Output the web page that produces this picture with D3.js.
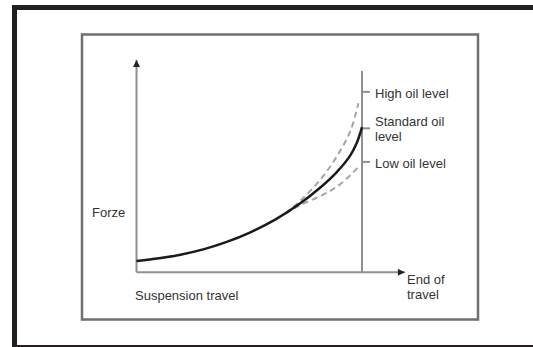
<!DOCTYPE html>
<html>
<head>
<meta charset="utf-8">
<script src="https://cdn.jsdelivr.net/npm/d3@7/dist/d3.min.js"></script>
<style>
  html, body { margin: 0; padding: 0; background: #fff; }
  svg { display: block; }
  text { font-family: "Liberation Sans", Arial, sans-serif; font-size: 13px; fill: #333; }
</style>
</head>
<body>
<svg id="chart" width="533" height="347"></svg>
<script>
// Suspension travel (0 = start, 100 = end of travel) vs. force, relative units
const standardTravel = [0, 10, 20, 30, 40, 50, 61.5, 72.5, 81.4, 88.8, 94.9, 97.7, 100];
const standardForce  = [5.3, 6.6, 8.4, 10.9, 14.3, 18.6, 24.8, 32.4, 39.8, 47.2, 55.2, 61.0, 68.4];

const highTravel = [66, 72.5, 81.4, 88.8, 94.9, 98.4];
const highForce  = [27.8, 33.6, 43.5, 54.5, 66.7, 79.6];

const lowTravel = [66, 72.5, 81.4, 88.8, 94.9, 98.4];
const lowForce  = [27.6, 31.6, 35.8, 40.3, 45.8, 49.7];

// Oil level markers on the end-of-travel line
const levelLabels = [["High oil level"], ["Standard oil", "level"], ["Low oil level"]];
const levelForce  = [85, 67.8, 52];

const endLineTop = 94.8;
const yAxisLabel = "Forze";
const xAxisLabel = "Suspension travel";
const endLabel = ["End of", "travel"];

const svg = d3.select("#chart");

// Outer frame
svg.append("path")
  .attr("d", "M14.5,347 L14.5,7.5 L540,7.5")
  .attr("fill", "none").attr("stroke", "#231f20").attr("stroke-width", 5);
svg.append("line")
  .attr("x1", 14).attr("x2", 533).attr("y1", 346).attr("y2", 346)
  .attr("stroke", "#231f20").attr("stroke-width", 2);

// Inner panel
svg.append("rect")
  .attr("x", 82).attr("y", 34.5).attr("width", 396).attr("height", 285)
  .attr("fill", "#fff").attr("stroke", "#707070").attr("stroke-width", 2.5);

const x = d3.scaleLinear().domain([0, 100]).range([136.5, 362]);
const y = d3.scaleLinear().domain([0, 100]).range([272.3, 60]);

const defs = svg.append("defs");
defs.append("marker")
  .attr("id", "arrow").attr("viewBox", "0 0 10 10")
  .attr("refX", 10).attr("refY", 5)
  .attr("markerWidth", 9).attr("markerHeight", 7)
  .attr("markerUnits", "userSpaceOnUse")
  .attr("orient", "auto")
  .append("path").attr("d", "M0,0 L10,5 L0,10 Z").attr("fill", "#222");

const axisColor = "#8f8f8f";

// Force axis
svg.append("line")
  .attr("x1", x(0)).attr("x2", x(0))
  .attr("y1", y(0)).attr("y2", y(100))
  .attr("stroke", axisColor).attr("stroke-width", 2)
  .attr("marker-end", "url(#arrow)");

// Travel axis
svg.append("line")
  .attr("x1", x(0)).attr("x2", x(119))
  .attr("y1", y(0)).attr("y2", y(0))
  .attr("stroke", axisColor).attr("stroke-width", 2)
  .attr("marker-end", "url(#arrow)");

// End-of-travel line
svg.append("line")
  .attr("x1", x(100)).attr("x2", x(100))
  .attr("y1", y(0)).attr("y2", y(endLineTop))
  .attr("stroke", axisColor).attr("stroke-width", 2);

// Level ticks and labels
levelForce.forEach((f, i) => {
  svg.append("line")
    .attr("x1", x(100)).attr("x2", x(100) + 8)
    .attr("y1", y(f)).attr("y2", y(f))
    .attr("stroke", axisColor).attr("stroke-width", 2);
  const lines = levelLabels[i];
  const t = svg.append("text")
    .attr("x", x(100) + 13)
    .attr("y", y(f) + (lines.length > 1 ? -7 : 1.5));
  lines.forEach((s, j) => {
    t.append("tspan").attr("x", x(100) + 13)
      .attr("dy", j === 0 ? "0.35em" : "1.15em").text(s);
  });
});

const line = d3.line().curve(d3.curveCatmullRom.alpha(0.5))
  .x(d => x(d[0])).y(d => y(d[1]));

// Oil level variants (dashed)
[[highTravel, highForce], [lowTravel, lowForce]].forEach(([tv, fv]) => {
  svg.append("path")
    .datum(d3.zip(tv, fv))
    .attr("d", line)
    .attr("fill", "none").attr("stroke", "#a5a5a5")
    .attr("stroke-width", 2).attr("stroke-dasharray", "6,4");
});

// Standard oil level curve
svg.append("path")
  .datum(d3.zip(standardTravel, standardForce))
  .attr("d", line)
  .attr("fill", "none").attr("stroke", "#1a1a1a").attr("stroke-width", 2.5);

// Axis labels
svg.append("text").attr("x", 92).attr("y", 212).attr("dy", "0.35em").text(yAxisLabel);
svg.append("text").attr("x", 135).attr("y", 295.5).attr("dy", "0.35em").text(xAxisLabel);
const et = svg.append("text").attr("x", 407).attr("y", 279);
endLabel.forEach((s, j) => {
  et.append("tspan").attr("x", 407).attr("dy", j === 0 ? "0.35em" : "1.15em").text(s);
});
</script>
</body>
</html>
